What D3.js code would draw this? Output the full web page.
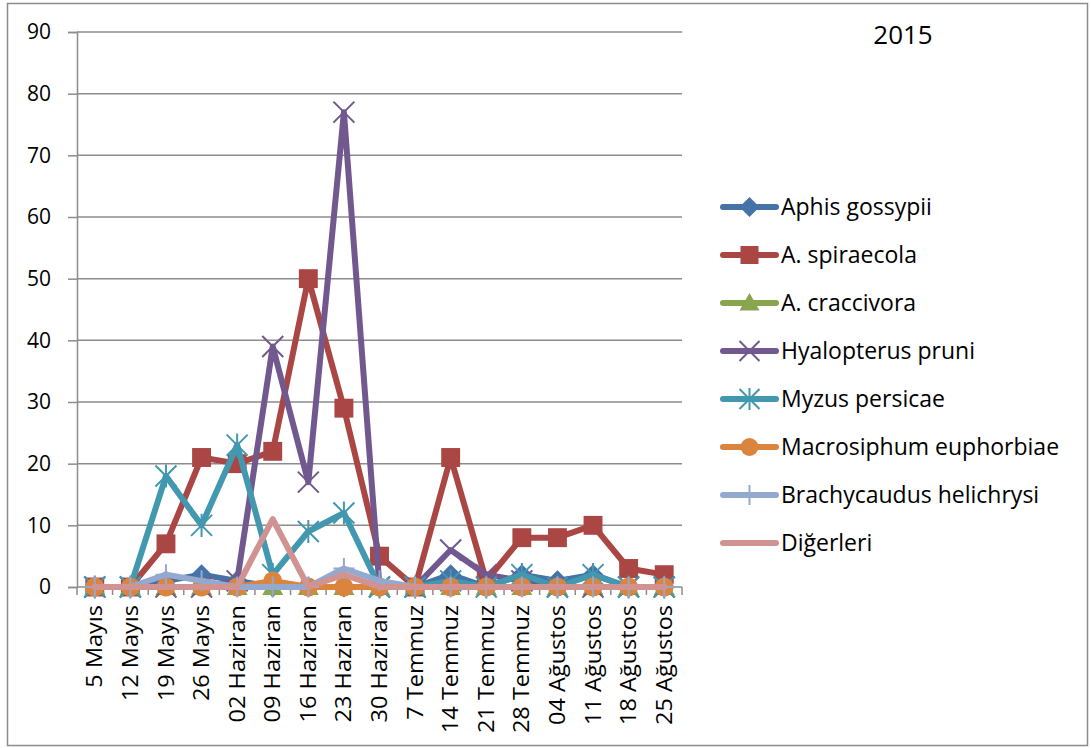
<!DOCTYPE html>
<html>
<head>
<meta charset="utf-8">
<script src="https://cdn.jsdelivr.net/npm/d3@7/dist/d3.min.js"></script>
<style>
  html, body { margin: 0; padding: 0; background: #fff; }
  svg text { font-family: "Open Sans", "Liberation Sans", sans-serif; fill: #000; }
</style>
</head>
<body>
<svg id="chart" width="1091" height="748"></svg>
<script>
// Weekly counts of aphid species, 2015
const dates = ["5 Mayıs", "12 Mayıs", "19 Mayıs", "26 Mayıs", "02 Haziran", "09 Haziran",
  "16 Haziran", "23 Haziran", "30 Haziran", "7 Temmuz", "14 Temmuz", "21 Temmuz",
  "28 Temmuz", "04 Ağustos", "11 Ağustos", "18 Ağustos", "25 Ağustos"];

const aphisGossypii        = [0, 0, 1, 2, 1, 0, 0, 0, 0, 0, 2, 0, 2, 1, 2, 0, 0];
const aSpiraecola          = [0, 0, 7, 21, 20, 22, 50, 29, 5, 0, 21, 1, 8, 8, 10, 3, 2];
const aCraccivora          = [0, 0, 0, 0, 0, 0, 0, 0, 0, 0, 0, 0, 0, 0, 0, 0, 0];
const hyalopterusPruni     = [0, 0, 0, 0, 1, 39, 17, 77, 0, 0, 6, 2, 1, 0, 0, 0, 0];
const myzusPersicae        = [0, 0, 18, 10, 23, 2, 9, 12, 0, 0, 1, 0, 2, 0, 2, 0, 0];
const macrosiphumEuphorbiae= [0, 0, 0, 0, 0, 1, 0, 0, 0, 0, 0, 0, 0, 0, 0, 0, 0];
const brachycaudus         = [0, 0, 2, 1, 0, 0, 0, 3, 1, 0, 0, 0, 0, 0, 0, 0, 0];
const digerleri            = [0, 0, 0, 0, 0, 11, 0, 2, 0, 0, 0, 0, 0, 0, 0, 0, 0];

const yTicks = [0, 10, 20, 30, 40, 50, 60, 70, 80, 90];
const chartTitle = "2015";

const series = [
  { name: "Aphis gossypii", values: aphisGossypii, color: "#4572A7", marker: "diamond" },
  { name: "A. spiraecola", values: aSpiraecola, color: "#AA4643", marker: "square" },
  { name: "A. craccivora", values: aCraccivora, color: "#89A54E", marker: "triangle" },
  { name: "Hyalopterus pruni", values: hyalopterusPruni, color: "#71588F", marker: "x" },
  { name: "Myzus persicae", values: myzusPersicae, color: "#4198AF", marker: "star" },
  { name: "Macrosiphum euphorbiae", values: macrosiphumEuphorbiae, color: "#DB843D", marker: "circle" },
  { name: "Brachycaudus helichrysi", values: brachycaudus, color: "#93A9CF", marker: "plus" },
  { name: "Diğerleri", values: digerleri, color: "#D19392", marker: "none" }
];

const svg = d3.select("#chart");
const gridColor = "#8c8c8c";

// outer frame
svg.append("rect").attr("x", 7.5).attr("y", 3.5).attr("width", 1080).attr("height", 742)
  .attr("fill", "#fff").attr("stroke", "#8c8c8c").attr("stroke-width", 1.5);

const plot = { left: 77, right: 682, top: 32, bottom: 587 };

const x = d3.scaleBand().domain(dates).range([plot.left, plot.right]);
const y = d3.scaleLinear().domain([0, 90]).range([plot.bottom, plot.top]);
const cx = d => x(d) + x.bandwidth() / 2;

// horizontal gridlines
svg.append("g").selectAll("line").data(yTicks.filter(t => t > 0)).join("line")
  .attr("x1", plot.left).attr("x2", plot.right)
  .attr("y1", d => y(d)).attr("y2", d => y(d))
  .attr("stroke", gridColor).attr("stroke-width", 1.5);

// y axis
const yAxis = svg.append("g").attr("transform", `translate(${plot.left},0)`)
  .call(d3.axisLeft(y).tickValues(yTicks).tickSize(9).tickPadding(17).tickFormat(d3.format("d")));
yAxis.select(".domain").attr("stroke", gridColor).attr("stroke-width", 1.5);
yAxis.selectAll(".tick line").attr("stroke", gridColor).attr("stroke-width", 1.5);
yAxis.selectAll("text").attr("font-size", 21).attr("font-family", "Open Sans, sans-serif");

// x axis baseline with tick marks at category boundaries
const xg = svg.append("g");
xg.append("line").attr("x1", plot.left).attr("x2", plot.right)
  .attr("y1", plot.bottom).attr("y2", plot.bottom)
  .attr("stroke", gridColor).attr("stroke-width", 1.5);
const boundaries = dates.map(d => x(d)).concat([plot.right]);
xg.selectAll("line.tk").data(boundaries).join("line").attr("class", "tk")
  .attr("x1", d => d).attr("x2", d => d)
  .attr("y1", plot.bottom).attr("y2", plot.bottom + 8)
  .attr("stroke", gridColor).attr("stroke-width", 1.5);
// rotated category labels, slightly elongated along the reading direction
xg.selectAll("text").data(dates).join("text")
  .attr("transform", d => `translate(${cx(d)},${plot.bottom + 18}) rotate(-90) scale(1.12,1)`)
  .attr("text-anchor", "end").attr("dy", "0.36em")
  .attr("font-size", 21)
  .text(d => d);

// marker drawing
function drawMarker(g, type, color, size) {
  const s = size;
  switch (type) {
    case "diamond":
      g.append("path").attr("d", `M0,${-s}L${s},0L0,${s}L${-s},0Z`).attr("fill", color); break;
    case "square":
      g.append("rect").attr("x", -s * 0.9).attr("y", -s * 0.9).attr("width", s * 1.8).attr("height", s * 1.8).attr("fill", color); break;
    case "triangle":
      g.append("path").attr("d", `M0,${-s}L${s},${s * 0.75}L${-s},${s * 0.75}Z`).attr("fill", color); break;
    case "circle":
      g.append("circle").attr("r", s * 0.9).attr("fill", color); break;
    case "x":
      g.append("path").attr("d", `M${-s},${-s}L${s},${s}M${-s},${s}L${s},${-s}`)
        .attr("stroke", color).attr("stroke-width", 2).attr("fill", "none"); break;
    case "star":
      g.append("path").attr("d", `M${-s},${-s}L${s},${s}M${-s},${s}L${s},${-s}M0,${-s * 1.1}L0,${s * 1.1}`)
        .attr("stroke", color).attr("stroke-width", 2).attr("fill", "none"); break;
    case "plus":
      g.append("path").attr("d", `M0,${-s}L0,${s}M${-s},0L${s},0`)
        .attr("stroke", color).attr("stroke-width", 2).attr("fill", "none"); break;
  }
}

const line = d3.line().x((d, i) => cx(dates[i])).y(d => y(d));

series.forEach(s => {
  const g = svg.append("g");
  g.append("path").datum(s.values).attr("d", line)
    .attr("fill", "none").attr("stroke", s.color).attr("stroke-width", 6)
    .attr("stroke-linejoin", "round").attr("stroke-linecap", "round");
  if (s.marker !== "none") {
    s.values.forEach((v, i) => {
      const m = g.append("g").attr("transform", `translate(${cx(dates[i])},${y(v)})`);
      drawMarker(m, s.marker, s.color, 10.5);
    });
  }
});

// title
svg.append("text").attr("x", 903).attr("y", 44).attr("text-anchor", "middle")
  .attr("font-size", 26).text(chartTitle);

// legend
const legend = svg.append("g");
series.forEach((s, i) => {
  const ly = 207 + i * 48;
  const row = legend.append("g");
  row.append("line").attr("x1", 723).attr("x2", 776).attr("y1", ly).attr("y2", ly)
    .attr("stroke", s.color).attr("stroke-width", 6).attr("stroke-linecap", "round");
  if (s.marker !== "none") {
    const m = row.append("g").attr("transform", `translate(749.5,${ly})`);
    drawMarker(m, s.marker, s.color, 10);
  }
  row.append("text").attr("x", 781).attr("y", ly).attr("dy", "0.35em")
    .attr("font-size", 23).text(s.name);
});
</script>
</body>
</html>
